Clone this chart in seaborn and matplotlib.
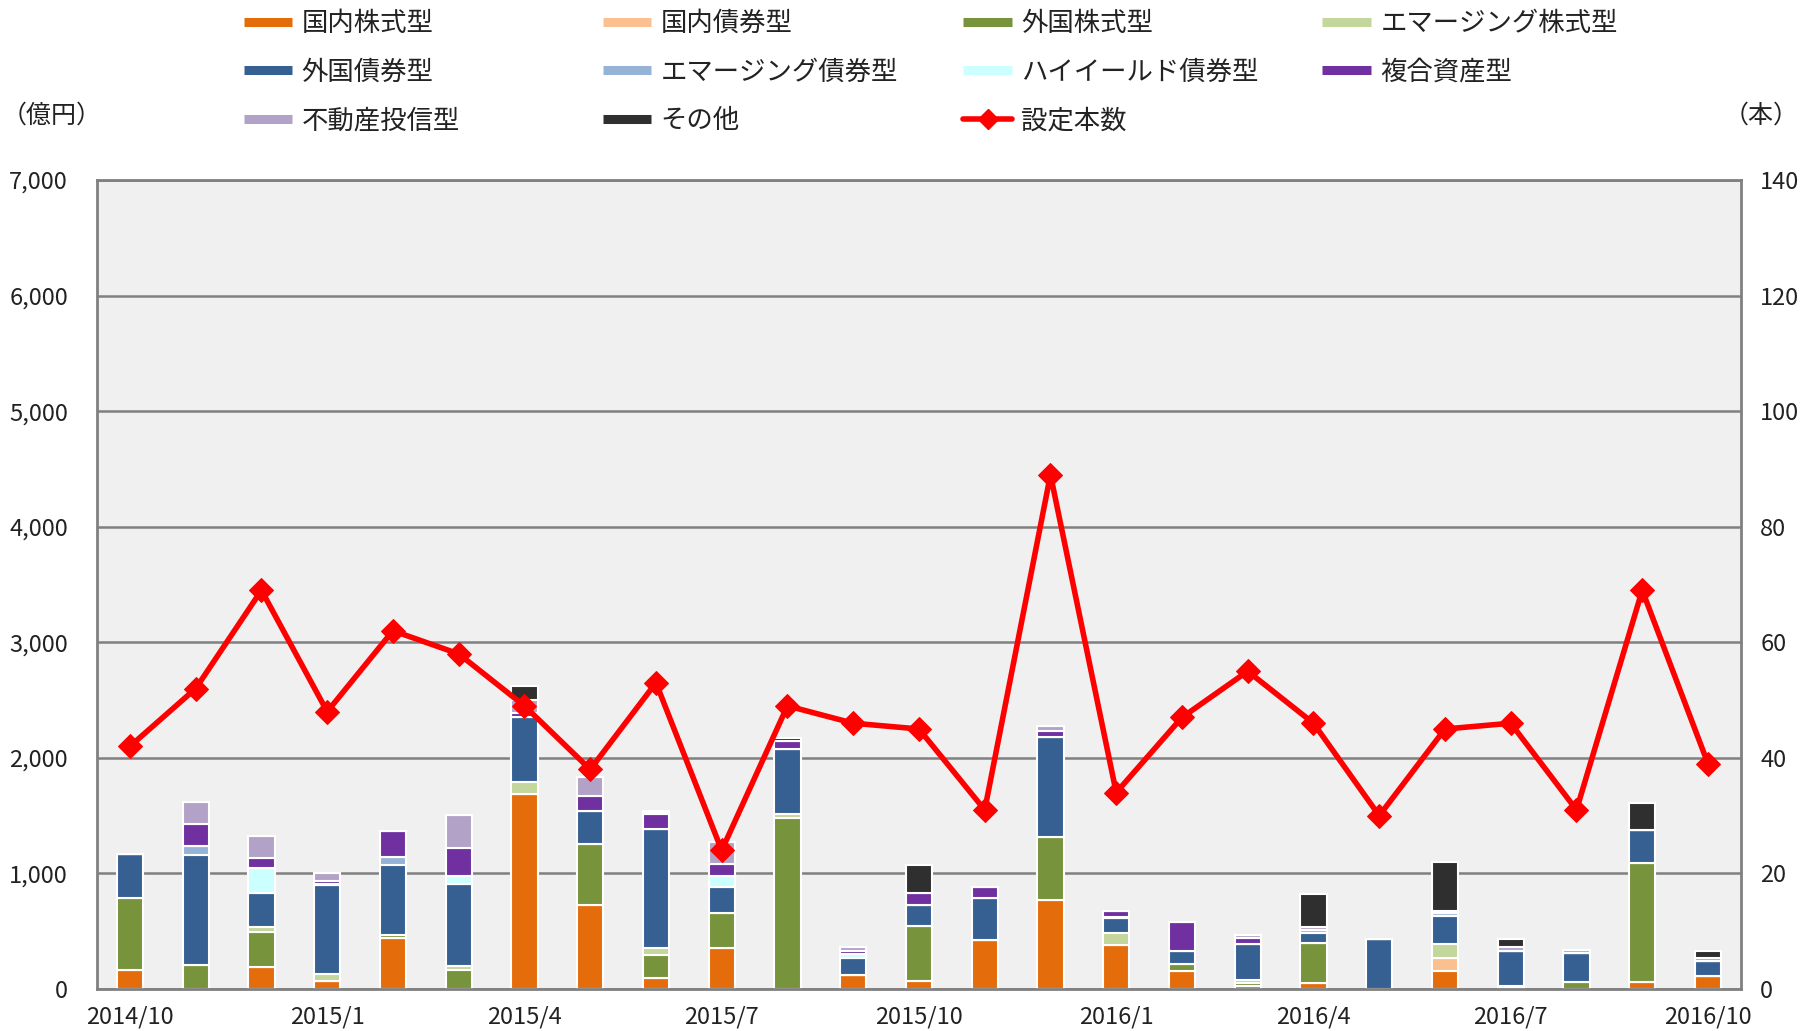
import matplotlib
matplotlib.use("Agg")
import matplotlib.pyplot as plt
import seaborn as sns
import numpy as np
from matplotlib.lines import Line2D
from matplotlib.ticker import FuncFormatter

# months on the x axis
months = ['2014/10', '2014/11', '2014/12', '2015/1', '2015/2', '2015/3',
          '2015/4', '2015/5', '2015/6', '2015/7', '2015/8', '2015/9',
          '2015/10', '2015/11', '2015/12', '2016/1', '2016/2', '2016/3',
          '2016/4', '2016/5', '2016/6', '2016/7', '2016/8', '2016/9', '2016/10']

# fund flows by type (億円)
dom_stock = [165, 0, 194, 70, 441, 0, 1688, 731, 96, 351, 0, 122, 70,
             426, 768, 383, 154, 23, 55, 0, 157, 10, 0, 61, 113]
dom_bond = [0, 0, 0, 0, 0, 0, 0, 0, 0, 0, 0, 0, 0,
            0, 0, 0, 0, 0, 0, 0, 113, 18, 0, 0, 0]
for_stock = [620, 206, 302, 0, 29, 165, 0, 522, 200, 307, 1482, 0, 472,
             0, 546, 0, 64, 26, 342, 0, 0, 0, 61, 1027, 0]
em_stock = [0, 0, 38, 63, 0, 35, 104, 0, 61, 0, 29, 0, 0,
            0, 0, 104, 0, 26, 0, 0, 116, 0, 0, 0, 0]
for_bond = [383, 951, 301, 763, 606, 705, 563, 284, 1032, 224, 565, 148, 189,
            360, 864, 125, 107, 311, 84, 432, 246, 300, 255, 292, 131]
em_bond = [0, 78, 0, 0, 67, 0, 0, 0, 0, 0, 0, 0, 0,
           0, 0, 0, 0, 0, 29, 0, 22, 0, 0, 0, 0]
high_yield = [0, 0, 209, 15, 0, 69, 0, 0, 0, 92, 0, 35, 0,
              0, 0, 15, 0, 0, 0, 0, 0, 0, 0, 0, 0]
balanced = [0, 192, 87, 20, 223, 247, 37, 130, 125, 108, 67, 20, 101,
            93, 58, 45, 252, 58, 0, 0, 0, 0, 0, 0, 0]
reit = [0, 191, 194, 70, 0, 284, 108, 169, 12, 194, 0, 37, 0,
        0, 43, 0, 0, 23, 26, 0, 25, 35, 23, 0, 26]
other = [0, 0, 0, 0, 0, 0, 119, 0, 15, 0, 26, 0, 238,
         0, 0, 0, 0, 0, 288, 0, 420, 70, 0, 232, 61]

# number of new funds (本)
fund_count = [42, 52, 69, 48, 62, 58, 49, 38, 53, 24, 49, 46, 45,
              31, 89, 34, 47, 55, 46, 30, 45, 46, 31, 69, 39]

series = [
    ('国内株式型', dom_stock, '#E46C0A'),
    ('国内債券型', dom_bond, '#FAC090'),
    ('外国株式型', for_stock, '#77933C'),
    ('エマージング株式型', em_stock, '#C3D69B'),
    ('外国債券型', for_bond, '#376092'),
    ('エマージング債券型', em_bond, '#95B3D7'),
    ('ハイイールド債券型', high_yield, '#CCFFFF'),
    ('複合資産型', balanced, '#7030A0'),
    ('不動産投信型', reit, '#B3A2C7'),
    ('その他', other, '#2F2F2F'),
]

sns.set_style("white")
plt.rcParams['font.family'] = ['Noto Sans CJK JP', 'DejaVu Sans']
plt.rcParams['text.color'] = '#222222'
plt.rcParams['xtick.color'] = '#222222'
plt.rcParams['ytick.color'] = '#222222'

fig = plt.figure(figsize=(18.04, 10.31), dpi=100)
ax = fig.add_axes([0.0538, 0.0407, 0.9112, 0.7847])
ax.set_facecolor('#F0F0F0')
ax.set_axisbelow(True)
ax.yaxis.grid(True, color='#808080', linewidth=1.8)

bottom = np.zeros(len(months))
for name, vals, col in series:
    sns.barplot(x=months, y=vals, bottom=bottom, color=col, saturation=1,
                width=0.4, edgecolor='white', linewidth=1.5, errorbar=None, ax=ax)
    bottom = bottom + np.array(vals)

ax.set_ylim(0, 7000)
ax.set_yticks(range(0, 7001, 1000))
ax.yaxis.set_major_formatter(FuncFormatter(lambda v, p: f'{int(v):,}'))
ax.tick_params(axis='y', length=0, pad=21, labelsize=17)

ax.set_xticks(range(0, len(months), 3))
ax.set_xticklabels(months[::3])
ax.set_xticks(np.arange(2.5, len(months) - 1, 3), minor=True)
ax.tick_params(axis='x', which='major', length=0, pad=12, labelsize=17)
ax.tick_params(axis='x', which='minor', direction='in', length=5, width=1.8,
               color='#808080')
ax.set_xlabel('')
ax.set_ylabel('')
for s in ax.spines.values():
    s.set_visible(True)
    s.set_color('#808080')
    s.set_linewidth(2)

# line on the right axis
ax2 = ax.twinx()
sns.lineplot(x=np.arange(len(months)), y=fund_count, color='#FF0000',
             linewidth=4, marker='D', markersize=12.5, markeredgecolor='#FF0000',
             ax=ax2)
ax2.set_ylim(0, 140)
ax2.set_yticks(range(0, 141, 20))
ax2.tick_params(axis='y', length=0, pad=14, labelsize=17)
ax2.set_ylabel('')
for s in ax2.spines.values():
    s.set_visible(False)
ax.set_xlim(-0.5, len(months) - 0.5)

fig.text(0.001, 0.888, '（億円）', fontsize=18, va='center', ha='left')
fig.text(0.997, 0.888, '（本）', fontsize=18, va='center', ha='right')

# legend, laid out in 4 columns x 3 rows
handles = [Line2D([], [], color=c, lw=6.5, solid_capstyle='butt') for _, _, c in series]
labels = [n for n, _, _ in series]
handles.append(Line2D([], [], color='#FF0000', lw=4, marker='D', markersize=10))
labels.append('設定本数')

col_x = [0.135, 0.334, 0.534, 0.733]
row_y = [0.977, 0.930, 0.883]
for i, (h, lab) in enumerate(zip(handles, labels)):
    fig.legend([h], [lab], loc='center left',
               bbox_to_anchor=(col_x[i % 4], row_y[i // 4]),
               frameon=False, fontsize=19, handlelength=1.85,
               handletextpad=0.35, borderpad=0, borderaxespad=0)

fig.savefig('out.png', dpi=100, facecolor='white')
